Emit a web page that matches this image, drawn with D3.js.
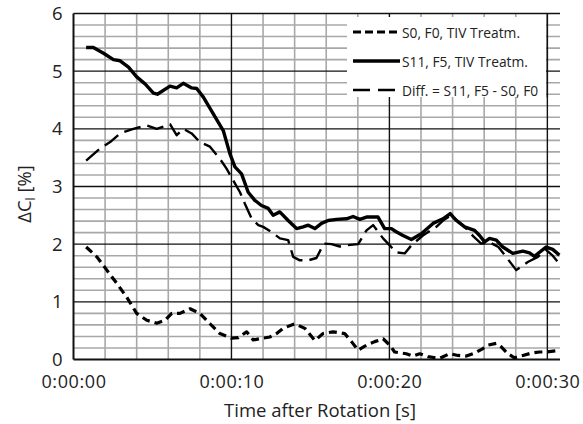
<!DOCTYPE html>
<html>
<head>
<meta charset="utf-8">
<script src="https://cdn.jsdelivr.net/npm/d3@7"></script>
<style>
  body { margin: 0; background: #fff; }
  text { font-family: "Open Sans", "Noto Sans", sans-serif; fill: #222; }
</style>
</head>
<body>
<div id="vis-container"></div>
<script>
// time [s] and delta C_l [%]
var s0f0 = [[0.8,1.95],[1.48,1.78],[2.11,1.55],[2.74,1.32],[3.37,1.08],[4.0,0.8],[4.64,0.68],[5.27,0.63],[5.8,0.68],[6.22,0.8],[6.74,0.8],[7.38,0.88],[8.0,0.8],[8.64,0.62],[9.27,0.45],[10.0,0.37],[10.43,0.38],[10.96,0.48],[11.38,0.34],[12.01,0.37],[12.43,0.39],[12.86,0.45],[13.27,0.54],[14.01,0.62],[14.65,0.54],[15.28,0.33],[15.8,0.45],[16.43,0.48],[17.17,0.45],[17.6,0.31],[18.02,0.16],[18.55,0.25],[19.07,0.31],[19.6,0.36],[20.02,0.25],[20.33,0.13],[21.07,0.1],[21.49,0.06],[21.92,0.1],[22.44,0.05],[23.18,0.02],[23.81,0.1],[24.34,0.07],[24.87,0.06],[25.39,0.11],[25.92,0.19],[26.24,0.25],[26.77,0.28],[27.08,0.22],[27.5,0.1],[27.92,0.03],[28.45,0.07],[28.97,0.11],[29.5,0.13],[29.92,0.13],[30.55,0.15],[30.76,0.15]];

var s11f5 = [[0.8,5.41],[1.26,5.41],[1.9,5.31],[2.53,5.2],[2.95,5.18],[3.48,5.07],[4.0,4.9],[4.53,4.78],[5.06,4.62],[5.31,4.6],[6.11,4.74],[6.53,4.71],[6.95,4.79],[7.48,4.71],[7.8,4.7],[8.22,4.55],[8.85,4.26],[9.48,3.97],[9.9,3.57],[10.22,3.34],[10.64,3.22],[11.06,2.9],[11.48,2.76],[11.9,2.67],[12.33,2.62],[12.64,2.5],[13.06,2.56],[13.59,2.41],[14.12,2.27],[14.54,2.3],[14.86,2.33],[15.28,2.27],[15.7,2.36],[16.12,2.41],[16.65,2.43],[17.28,2.44],[17.7,2.48],[18.12,2.43],[18.55,2.47],[19.28,2.47],[19.7,2.27],[20.13,2.27],[20.4,2.22],[20.86,2.15],[21.39,2.08],[22.02,2.18],[22.76,2.36],[23.39,2.44],[23.85,2.53],[24.24,2.41],[24.76,2.3],[25.39,2.24],[25.71,2.15],[26.03,2.04],[26.34,2.1],[26.77,2.07],[27.18,1.95],[27.81,1.84],[28.45,1.88],[28.87,1.85],[29.18,1.79],[29.92,1.95],[30.34,1.91],[30.76,1.81]];

var diff = [[0.8,3.45],[1.69,3.66],[2.32,3.77],[2.95,3.92],[3.79,4.0],[4.64,4.06],[5.27,4.0],[6.11,4.08],[6.53,3.89],[6.95,4.0],[7.48,3.92],[8.0,3.77],[8.64,3.69],[9.27,3.48],[9.69,3.31],[10.1,3.11],[10.54,2.9],[10.85,2.7],[11.28,2.44],[11.7,2.33],[12.01,2.3],[12.54,2.21],[13.07,2.1],[13.59,2.07],[13.91,1.78],[14.33,1.72],[14.86,1.72],[15.38,1.76],[15.85,2.01],[16.33,2.0],[16.86,1.96],[17.28,1.98],[18.02,2.0],[18.55,2.24],[18.97,2.33],[19.6,2.1],[20.02,1.98],[20.4,1.86],[20.97,1.84],[21.39,1.98],[22.12,2.15],[22.97,2.3],[23.39,2.41],[23.9,2.5],[24.65,2.33],[25.3,2.14],[25.81,2.01],[26.3,2.04],[26.9,1.95],[27.5,1.74],[28.03,1.55],[28.76,1.69],[29.4,1.78],[29.92,1.9],[30.34,1.8],[30.76,1.66]];

var seriesNames = ["S0, F0, TIV Treatm.", "S11, F5, TIV Treatm.", "Diff. = S11, F5 - S0, F0"];
var xTicks = [0, 10, 20, 30];
var xTickLabels = ["0:00:00", "0:00:10", "0:00:20", "0:00:30"];
var yTicks = [0, 1, 2, 3, 4, 5, 6];

var width = 583, height = 424;
var margins = { top: 13.5, right: 23, bottom: 64.5, left: 73.5 };
var visWidth = width - margins.left - margins.right;
var visHeight = height - margins.top - margins.bottom;

var svg = d3.select("#vis-container").append("svg")
    .attr("width", width)
    .attr("height", height);

var viewport = svg.append("g")
    .attr("transform", "translate(" + margins.left + "," + margins.top + ")");

var x = d3.scaleLinear().domain([0, 30.8]).range([0, visWidth]);
var y = d3.scaleLinear().domain([0, 6]).range([visHeight, 0]);

// grid: light minor lines first, black major lines on top
var grid = viewport.append("g");
var minorX = d3.range(2, 31, 2).filter(d => d % 10 !== 0);
var minorY = d3.range(1, 30).map(d => d / 5).filter(d => Math.abs(d - Math.round(d)) > 1e-6);

grid.selectAll(".vminor").data(minorX).enter().append("line")
    .attr("x1", d => x(d)).attr("x2", d => x(d))
    .attr("y1", 0).attr("y2", visHeight)
    .attr("stroke", "#a8a8a8").attr("stroke-width", 1.6);

grid.selectAll(".hminor").data(minorY).enter().append("line")
    .attr("x1", 0).attr("x2", visWidth)
    .attr("y1", d => y(d)).attr("y2", d => y(d))
    .attr("stroke", "#a8a8a8").attr("stroke-width", 1.6);

grid.selectAll(".hmajor").data(yTicks.filter(d => d > 0)).enter().append("line")
    .attr("x1", 0).attr("x2", visWidth)
    .attr("y1", d => y(d)).attr("y2", d => y(d))
    .attr("stroke", "#111").attr("stroke-width", 1.4);

grid.selectAll(".vmajor").data(xTicks.filter(d => d > 0)).enter().append("line")
    .attr("x1", d => x(d)).attr("x2", d => x(d))
    .attr("y1", 0).attr("y2", visHeight)
    .attr("stroke", "#111").attr("stroke-width", 1.4);

// legend box sits above the grid
var legend = viewport.append("g").attr("transform", "translate(" + (347 - margins.left) + "," + (17 - margins.top) + ")");
legend.append("rect")
    .attr("width", 199).attr("height", 80)
    .attr("fill", "#fff");

// axes lines
viewport.append("line")
    .attr("x1", 0).attr("x2", 0).attr("y1", 0).attr("y2", visHeight)
    .attr("stroke", "#111").attr("stroke-width", 2);
viewport.append("line")
    .attr("x1", 0).attr("x2", visWidth).attr("y1", visHeight).attr("y2", visHeight)
    .attr("stroke", "#111").attr("stroke-width", 2.2);
viewport.append("line")
    .attr("x1", x(30)).attr("x2", x(30)).attr("y1", 0).attr("y2", 84)
    .attr("stroke", "#111").attr("stroke-width", 1.4);

// lines
var lineGen = d3.line().x(d => x(d[0])).y(d => y(d[1]));
var styles = [
    { data: s0f0, dash: "8,5", legendDash: "8,4", w: 3.2 },
    { data: s11f5, dash: null, legendDash: null, w: 3.4 },
    { data: diff, dash: "17,7", legendDash: "17,8", w: 2.4 }
];
var visualization = viewport.append("g");
styles.forEach(s => {
    visualization.append("path")
        .attr("d", lineGen(s.data))
        .attr("fill", "none")
        .attr("stroke", "#000")
        .attr("stroke-width", s.w)
        .attr("stroke-dasharray", s.dash)
        .attr("stroke-linejoin", "round");
});

// legend entries
styles.forEach((s, i) => {
    var yy = 15 + i * 29;
    legend.append("line")
        .attr("x1", 6).attr("x2", 53).attr("y1", yy).attr("y2", yy)
        .attr("stroke", "#000").attr("stroke-width", s.w)
        .attr("stroke-dasharray", s.legendDash);
    legend.append("text")
        .attr("x", 55).attr("y", yy)
        .attr("dominant-baseline", "central")
        .style("font-size", "13.8px")
        .text(seriesNames[i]);
});

// axis labels
var xAxis = d3.axisBottom(x).tickValues(xTicks).tickSize(0).tickPadding(16)
    .tickFormat((d, i) => xTickLabels[i]);
var xg = viewport.append("g").attr("transform", "translate(0," + visHeight + ")").call(xAxis);
xg.select(".domain").remove();
xg.selectAll("text").style("font-size", "18px").style("letter-spacing", "0.6px")
    .style("font-family", "'Open Sans', sans-serif").attr("fill", "#222");

var yAxis = d3.axisLeft(y).tickValues(yTicks).tickSize(0).tickPadding(11)
    .tickFormat(d3.format("d"));
var yg = viewport.append("g").call(yAxis);
yg.select(".domain").remove();
yg.selectAll("text").style("font-size", "18.5px")
    .style("font-family", "'Open Sans', sans-serif").attr("fill", "#222");

svg.append("text")
    .attr("x", 320).attr("y", 417)
    .attr("text-anchor", "middle")
    .style("font-size", "18.5px")
    .text("Time after Rotation [s]");

var yTitle = svg.append("text")
    .attr("transform", "translate(31,194) rotate(-90)")
    .attr("text-anchor", "middle")
    .style("font-size", "18.5px");
yTitle.append("tspan").text("ΔC");
yTitle.append("tspan").attr("dy", 4).style("font-size", "12px").text("l");
yTitle.append("tspan").attr("dy", -4).text(" [%]");
</script>
</body>
</html>
